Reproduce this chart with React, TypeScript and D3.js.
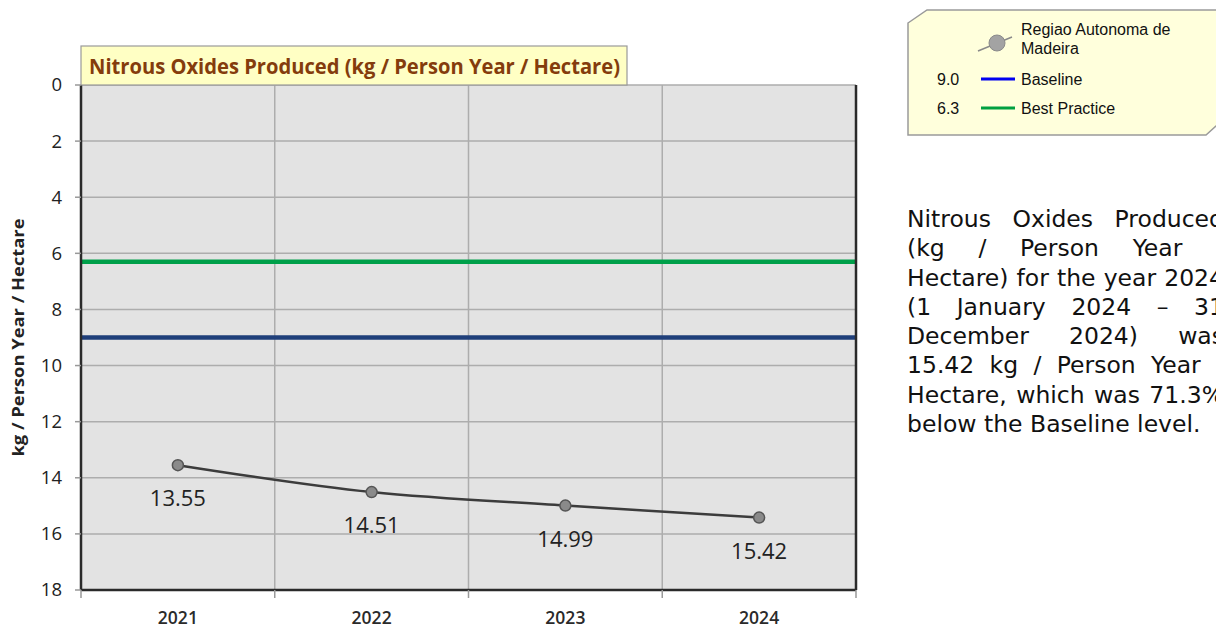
import React from "react";
import * as d3 from "d3";

const years = ["2021", "2022", "2023", "2024"];
const values = [13.55, 14.51, 14.99, 15.42];
const baselineValue = 9.0;
const bestPracticeValue = 6.3;
const yTicks = [0, 2, 4, 6, 8, 10, 12, 14, 16, 18];
const seriesNameLines = ["Regiao Autonoma de", "Madeira"];
const chartTitle = "Nitrous Oxides Produced (kg / Person Year / Hectare)";
const yAxisTitle = "kg / Person Year / Hectare";
const paragraphLines = [
  "Nitrous Oxides Produced",
  "(kg / Person Year /",
  "Hectare) for the year 2024",
  "(1 January 2024 \u2013 31",
  "December 2024) was",
  "15.42 kg / Person Year /",
  "Hectare, which was 71.3%",
  "below the Baseline level.",
];

const W = 1216;
const H = 627;
const M = { left: 81, right: 856, top: 85, bottom: 590 };

let ctx: CanvasRenderingContext2D | null = null;
function measure(text: string, font: string): number {
  if (!ctx) {
    const c = document.createElement("canvas");
    ctx = c.getContext("2d");
  }
  if (!ctx) return text.length * 12;
  ctx.font = font;
  return ctx.measureText(text).width;
}

function JustifiedParagraph() {
  const fontSize = 23.5;
  const family = "DejaVu Sans";
  const font = `${fontSize}px "${family}"`;
  const left = 907;
  const right = 1224;
  const lineH = 29.25;
  const y0 = 227;
  return (
    <g fontFamily={family} fontSize={fontSize} fill="#111">
      {paragraphLines.map((line, i) => {
        const y = y0 + i * lineH;
        const last = i === paragraphLines.length - 1;
        const words = line.split(" ");
        if (last || words.length < 2) {
          return (
            <text key={i} x={left} y={y}>
              {line}
            </text>
          );
        }
        const widths = words.map((w) => measure(w, font));
        const total = d3.sum(widths);
        const gap = (right - left - total) / (words.length - 1);
        let x = left;
        return (
          <g key={i}>
            {words.map((w, j) => {
              const el = (
                <text key={j} x={x} y={y}>
                  {w}
                </text>
              );
              x += widths[j] + gap;
              return el;
            })}
          </g>
        );
      })}
    </g>
  );
}

export default function App() {
  const x = d3
    .scaleBand<string>()
    .domain(years)
    .range([M.left, M.right])
    .paddingInner(0)
    .paddingOuter(0);
  const y = d3.scaleLinear().domain([0, 18]).range([M.top, M.bottom]);
  const cx = (d: string) => (x(d) as number) + x.bandwidth() / 2;

  const pts: [number, number][] = years.map((d, i) => [cx(d), y(values[i])]);
  const line = d3.line().curve(d3.curveCatmullRom.alpha(0.5))(pts) || "";

  const boundaries = [...years.map((d) => x(d) as number), M.right];

  const labelFont = "'Open Sans', 'Noto Sans', sans-serif";

  return (
    <div style={{ position: "absolute", left: 0, top: 0 }}>
      <svg width={W} height={H} style={{ display: "block" }}>
        <rect x={0} y={0} width={W} height={H} fill="#ffffff" />
        {/* plot background */}
        <rect
          x={M.left}
          y={M.top}
          width={M.right - M.left}
          height={M.bottom - M.top}
          fill="#e3e3e3"
        />
        {/* horizontal gridlines */}
        {yTicks.map((t) => (
          <line
            key={"h" + t}
            x1={M.left}
            x2={M.right}
            y1={y(t)}
            y2={y(t)}
            stroke="#adadad"
            strokeWidth={1.5}
          />
        ))}
        {/* vertical gridlines */}
        {boundaries.slice(1, -1).map((b, i) => (
          <line
            key={"v" + i}
            x1={b}
            x2={b}
            y1={M.top}
            y2={M.bottom}
            stroke="#adadad"
            strokeWidth={1.5}
          />
        ))}
        {/* reference lines */}
        <line
          x1={M.left}
          x2={M.right}
          y1={y(bestPracticeValue)}
          y2={y(bestPracticeValue)}
          stroke="#00a04a"
          strokeWidth={4.5}
        />
        <line
          x1={M.left}
          x2={M.right}
          y1={y(baselineValue)}
          y2={y(baselineValue)}
          stroke="#1f3f7a"
          strokeWidth={4.5}
        />
        {/* axes borders */}
        <line x1={M.left} x2={M.left} y1={M.top} y2={M.bottom} stroke="#2a2a2a" strokeWidth={2.5} />
        <line x1={M.right} x2={M.right} y1={M.top} y2={M.bottom} stroke="#2a2a2a" strokeWidth={2.5} />
        <line x1={M.left} x2={M.right} y1={M.bottom} y2={M.bottom} stroke="#2a2a2a" strokeWidth={2.5} />
        {/* y ticks */}
        {yTicks.map((t) => (
          <g key={"yt" + t}>
            <line x1={M.left - 6} x2={M.left} y1={y(t)} y2={y(t)} stroke="#999" strokeWidth={1.5} />
            <text
              x={62}
              y={y(t)}
              dy="0.35em"
              textAnchor="end"
              fontFamily={labelFont}
              fontSize={18.5}
              fill="#222"
            >
              {t}
            </text>
          </g>
        ))}
        {/* x ticks */}
        {boundaries.map((b, i) => (
          <line key={"xt" + i} x1={b} x2={b} y1={M.bottom} y2={M.bottom + 8} stroke="#999" strokeWidth={1.5} />
        ))}
        {years.map((d) => (
          <text
            key={"xl" + d}
            x={cx(d)}
            y={623.5}
            textAnchor="middle"
            fontFamily={labelFont}
            fontSize={17.5}
            fontWeight={600}
            fill="#2a2a2a"
          >
            {d}
          </text>
        ))}
        {/* y axis title */}
        <text
          transform={`translate(24, ${(M.top + M.bottom) / 2}) rotate(-90)`}
          textAnchor="middle"
          fontFamily={labelFont}
          fontSize={15.5}
          fontWeight={700}
          fill="#222"
          textLength={238}
          lengthAdjust="spacingAndGlyphs"
        >
          {yAxisTitle}
        </text>
        {/* data line */}
        <path d={line} fill="none" stroke="#3c3c3c" strokeWidth={2.5} />
        {pts.map((p, i) => (
          <circle key={"c" + i} cx={p[0]} cy={p[1]} r={5.5} fill="#8a8a8a" stroke="#555" strokeWidth={1.5} />
        ))}
        {pts.map((p, i) => (
          <text
            key={"dl" + i}
            x={p[0]}
            y={p[1] + 41}
            textAnchor="middle"
            fontFamily={labelFont}
            fontSize={22}
            fill="#222"
          >
            {values[i].toFixed(2)}
          </text>
        ))}
        {/* title box */}
        <rect x={81} y={46} width={546} height={39} fill="#ffffc4" stroke="#9a9a9a" strokeWidth={1.2} />
        <text
          x={89}
          y={74}
          fontFamily={labelFont}
          fontSize={20.5}
          fontWeight={700}
          fill="#843c0c"
          textLength={531}
          lengthAdjust="spacingAndGlyphs"
        >
          {chartTitle}
        </text>
        {/* legend */}
        <polygon
          points="908,23 927,10 1224,10 1224,119 1206,135 908,135"
          fill="#ffffdc"
          stroke="#9a9a9a"
          strokeWidth={1.5}
        />
        <g fontFamily="'Liberation Sans', Arial, sans-serif" fontSize={16} fill="#111">
          <line x1={978} y1={51} x2={1012} y2={37} stroke="#8a8a8a" strokeWidth={1.5} />
          <circle cx={997} cy={43} r={8} fill="#a3a3a3" stroke="#8a8a8a" strokeWidth={1} />
          <text x={1021} y={35}>{seriesNameLines[0]}</text>
          <text x={1021} y={54}>{seriesNameLines[1]}</text>
          <text x={937} y={85}>{baselineValue.toFixed(1)}</text>
          <line x1={981} x2={1015} y1={79} y2={79} stroke="#0000f0" strokeWidth={3} />
          <text x={1021} y={85}>Baseline</text>
          <text x={937} y={114}>{bestPracticeValue.toFixed(1)}</text>
          <line x1={981} x2={1015} y1={108} y2={108} stroke="#00a040" strokeWidth={3} />
          <text x={1021} y={114}>Best Practice</text>
        </g>
        <JustifiedParagraph />
      </svg>
    </div>
  );
}
